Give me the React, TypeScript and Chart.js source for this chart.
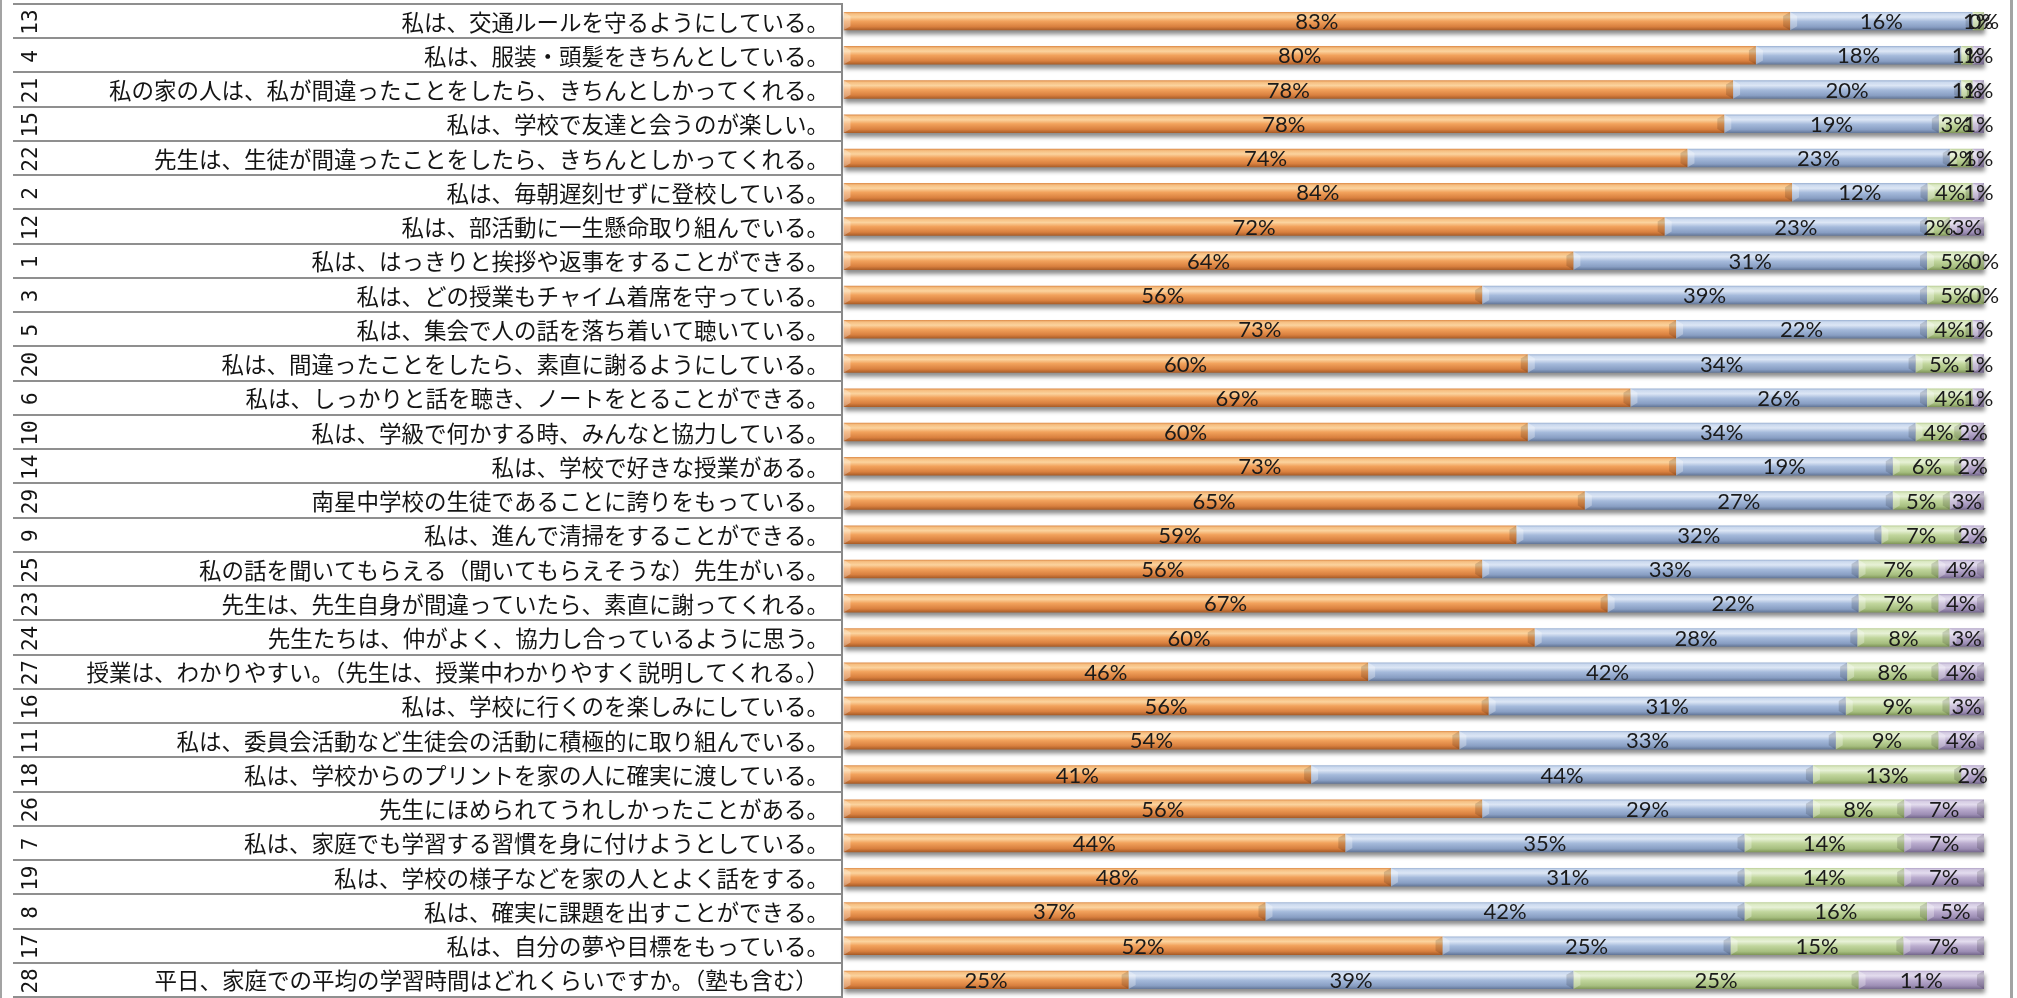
import React, { useEffect, useRef } from "react";
import { Chart, registerables } from "chart.js";

Chart.register(...registerables);

const codes = ["13","4","21","15","22","2","12","1","3","5","20","6","10","14","29","9","25","23","24","27","16","11","18","26","7","19","8","17","28"];

const questions = [
  "私は、交通ルールを守るようにしている。",
  "私は、服装・頭髪をきちんとしている。",
  "私の家の人は、私が間違ったことをしたら、きちんとしかってくれる。",
  "私は、学校で友達と会うのが楽しい。",
  "先生は、生徒が間違ったことをしたら、きちんとしかってくれる。",
  "私は、毎朝遅刻せずに登校している。",
  "私は、部活動に一生懸命取り組んでいる。",
  "私は、はっきりと挨拶や返事をすることができる。",
  "私は、どの授業もチャイム着席を守っている。",
  "私は、集会で人の話を落ち着いて聴いている。",
  "私は、間違ったことをしたら、素直に謝るようにしている。",
  "私は、しっかりと話を聴き、ノートをとることができる。",
  "私は、学級で何かする時、みんなと協力している。",
  "私は、学校で好きな授業がある。",
  "南星中学校の生徒であることに誇りをもっている。",
  "私は、進んで清掃をすることができる。",
  "私の話を聞いてもらえる（聞いてもらえそうな）先生がいる。",
  "先生は、先生自身が間違っていたら、素直に謝ってくれる。",
  "先生たちは、仲がよく、協力し合っているように思う。",
  "授業は、わかりやすい。（先生は、授業中わかりやすく説明してくれる。）",
  "私は、学校に行くのを楽しみにしている。",
  "私は、委員会活動など生徒会の活動に積極的に取り組んでいる。",
  "私は、学校からのプリントを家の人に確実に渡している。",
  "先生にほめられてうれしかったことがある。",
  "私は、家庭でも学習する習慣を身に付けようとしている。",
  "私は、学校の様子などを家の人とよく話をする。",
  "私は、確実に課題を出すことができる。",
  "私は、自分の夢や目標をもっている。",
  "平日、家庭での平均の学習時間はどれくらいですか。（塾も含む）　",
];

const seriesA = [83,80,78,78,74,84,72,64,56,73,60,69,60,73,65,59,56,67,60,46,56,54,41,56,44,48,37,52,25];
const seriesB = [16,18,20,19,23,12,23,31,39,22,34,26,34,19,27,32,33,22,28,42,31,33,44,29,35,31,42,25,39];
const seriesC = [1,1,1,3,2,4,2,5,5,4,5,4,4,6,5,7,7,7,8,8,9,9,13,8,14,14,16,15,25];
const seriesD = [0,1,1,1,1,1,3,0,0,1,1,1,2,2,3,2,4,4,3,4,3,4,2,7,7,7,5,7,11];

const rawSeries = [seriesA, seriesB, seriesC, seriesD];

const gradientStops: [number, string][][] = [
  [[0, "#DC8A48"], [0.1, "#F6BE80"], [0.28, "#FBD39E"], [0.5, "#F2A25C"], [0.8, "#D9803F"], [1, "#A65B27"]],
  [[0, "#9AB0D2"], [0.1, "#CBD9EE"], [0.28, "#DCE6F5"], [0.52, "#A5BADB"], [0.82, "#889EC3"], [1, "#627596"]],
  [[0, "#B9CD95"], [0.1, "#DBE9C3"], [0.28, "#E7F1D6"], [0.52, "#C1D69D"], [0.82, "#A6BE7F"], [1, "#7F9558"]],
  [[0, "#AFA1C5"], [0.1, "#D5CCE3"], [0.28, "#E3DCEE"], [0.52, "#BAACCE"], [0.82, "#9C8DB4"], [1, "#75688C"]],
];

const BAR_PCT = 0.54;

function App() {
  const ref = useRef<HTMLCanvasElement | null>(null);

  useEffect(() => {
    const canvas = ref.current;
    if (!canvas) return;
    const n = codes.length;
    const totals = codes.map((_, i) => rawSeries.reduce((s, arr) => s + arr[i], 0));

    const barGradient = (si: number) => (c: any) => {
      const chart = c.chart;
      const ys = chart.scales?.y;
      const area = chart.chartArea;
      if (!ys || !area || c.dataIndex === undefined) return gradientStops[si][3][1];
      const step = (area.bottom - area.top) / n;
      const h = step * BAR_PCT;
      const yc = ys.getPixelForValue(c.dataIndex);
      const g = chart.ctx.createLinearGradient(0, yc - h / 2, 0, yc + h / 2);
      gradientStops[si].forEach(([o, col]) => g.addColorStop(o, col));
      return g;
    };

    const tablePlugin = {
      id: "tablePlugin",
      beforeDraw(chart: any) {
        const { ctx, chartArea } = chart;
        const ys = chart.scales.y;
        ctx.save();
        ctx.fillStyle = "#ffffff";
        ctx.fillRect(0, 0, chart.width, chart.height);
        const step = (chartArea.bottom - chartArea.top) / n;
        ctx.strokeStyle = "#8f8f8f";
        ctx.lineWidth = 2;
        for (let i = 0; i <= n; i++) {
          const yy = Math.round(chartArea.top + i * step);
          ctx.beginPath();
          ctx.moveTo(13, yy);
          ctx.lineTo(chartArea.left - 1, yy);
          ctx.stroke();
        }
        ctx.strokeStyle = "#8a8a8a";
        ctx.beginPath();
        ctx.moveTo(chartArea.left - 1.5, chartArea.top - 1);
        ctx.lineTo(chartArea.left - 1.5, chartArea.bottom + 1);
        ctx.stroke();
        ctx.fillStyle = "#a3a3a3";
        ctx.fillRect(0, 0, 2, chart.height);
        ctx.fillRect(2010, 0, 3, chart.height);
        for (let i = 0; i < n; i++) {
          const yc = ys.getPixelForValue(i);
          ctx.fillStyle = "#141414";
          ctx.font = '22.5px "Noto Sans CJK JP"';
          ctx.textAlign = "right";
          ctx.textBaseline = "middle";
          ctx.fillText(questions[i], 829, yc + 1);
          ctx.save();
          ctx.translate(32, yc + 1);
          ctx.rotate(-Math.PI / 2);
          ctx.font = '21px "DejaVu Sans Mono"';
          ctx.textAlign = "center";
          ctx.textBaseline = "middle";
          ctx.fillStyle = "#141414";
          ctx.fillText(codes[i], 0, 0);
          ctx.restore();
        }
        ctx.restore();
      },
      beforeDatasetsDraw(chart: any) {
        const { ctx } = chart;
        const metas = chart.getSortedVisibleDatasetMetas();
        ctx.save();
        ctx.filter = "blur(2px)";
        ctx.fillStyle = "rgba(0,0,0,0.45)";
        for (let i = 0; i < n; i++) {
          let x0 = Infinity, x1 = -Infinity, yc = 0, h = 0;
          metas.forEach((m: any) => {
            const el = m.data[i];
            if (!el) return;
            const p = el.getProps(["x", "base", "y", "height"], true);
            x0 = Math.min(x0, p.x, p.base);
            x1 = Math.max(x1, p.x, p.base);
            yc = p.y;
            h = p.height;
          });
          ctx.fillRect(x0 + 1, yc - h / 2 + 4, x1 - x0, h);
        }
        ctx.restore();
      },
      afterDatasetsDraw(chart: any) {
        const { ctx } = chart;
        const metas = chart.getSortedVisibleDatasetMetas();
        ctx.save();
        metas.forEach((m: any) => {
          m.data.forEach((el: any) => {
            const p = el.getProps(["x", "base", "y", "height"], true);
            const x0 = Math.min(p.x, p.base);
            const x1 = Math.max(p.x, p.base);
            const w = x1 - x0;
            if (w < 1) return;
            const top = p.y - p.height / 2;
            const bot = p.y + p.height / 2;
            const b = Math.min(7, w / 2);
            const d = Math.min(b * 0.6, p.height / 3);
            ctx.fillStyle = "rgba(255,255,255,0.3)";
            ctx.beginPath();
            ctx.moveTo(x0, top);
            ctx.lineTo(x0 + b, top + d);
            ctx.lineTo(x0 + b, bot - d);
            ctx.lineTo(x0, bot);
            ctx.closePath();
            ctx.fill();
            ctx.fillStyle = "rgba(0,0,0,0.14)";
            ctx.beginPath();
            ctx.moveTo(x1, top);
            ctx.lineTo(x1 - b, top + d);
            ctx.lineTo(x1 - b, bot - d);
            ctx.lineTo(x1, bot);
            ctx.closePath();
            ctx.fill();
          });
        });
        ctx.font = '22px "Lato"';
        ctx.textAlign = "center";
        ctx.textBaseline = "middle";
        ctx.fillStyle = "#1a1a1a";
        metas.forEach((m: any) => {
          const src = rawSeries[m.index];
          m.data.forEach((el: any, i: number) => {
            const p = el.getProps(["x", "base", "y"], true);
            ctx.fillText(src[i] + "%", (p.x + p.base) / 2, p.y + 1);
          });
        });
        ctx.restore();
      },
    };

    const chart = new Chart(canvas, {
      type: "bar",
      data: {
        labels: codes,
        datasets: rawSeries.map((arr, si) => ({
          label: "s" + si,
          data: arr.map((v, i) => (v / totals[i]) * 100),
          backgroundColor: barGradient(si),
          borderWidth: 0,
          barPercentage: BAR_PCT,
          categoryPercentage: 1,
        })),
      },
      options: {
        indexAxis: "y",
        responsive: false,
        animation: false,
        devicePixelRatio: 1,
        layout: { padding: { left: 843.5, right: 33, top: 4, bottom: 1 } },
        plugins: { legend: { display: false }, tooltip: { enabled: false } },
        scales: {
          x: { stacked: true, min: 0, max: 100, display: false },
          y: { stacked: true, display: false },
        },
      },
      plugins: [tablePlugin],
    } as any);

    return () => chart.destroy();
  }, []);

  return (
    <div style={{ position: "absolute", left: 0, top: 0, width: 2017, height: 998 }}>
      <canvas ref={ref} width={2017} height={998} style={{ display: "block", width: 2017, height: 998 }} />
    </div>
  );
}

export default App;
